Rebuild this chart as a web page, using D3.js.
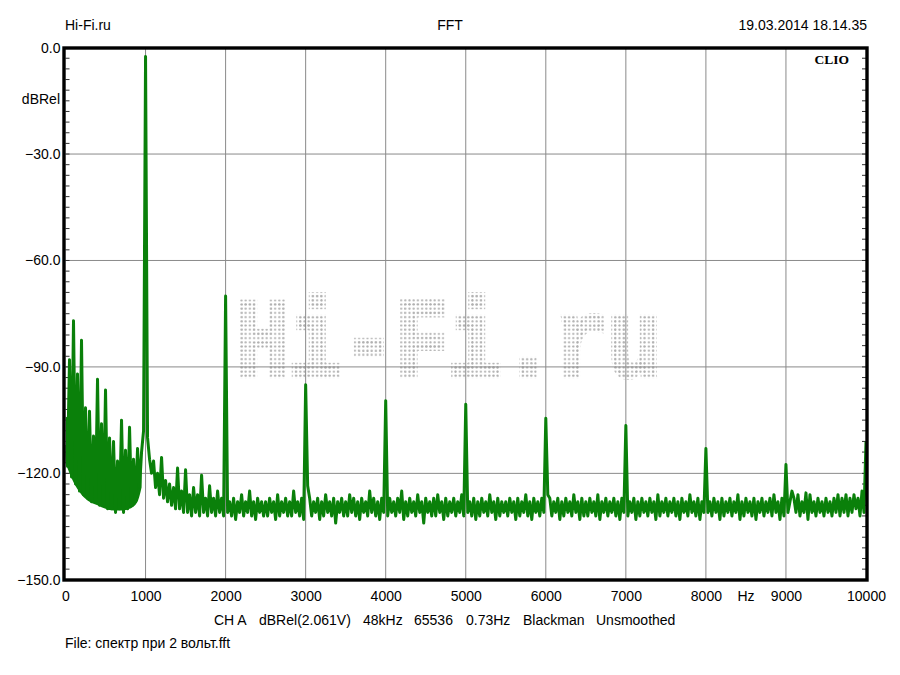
<!DOCTYPE html>
<html>
<head>
<meta charset="utf-8">
<script src="https://cdn.jsdelivr.net/npm/d3@7"></script>
<style>
  html, body { margin: 0; padding: 0; background: #fff; }
  svg { display: block; }
  text { font-family: "Liberation Sans", Arial, sans-serif; fill: #000; }
</style>
</head>
<body>
<svg id="chart" width="900" height="675"></svg>
<script>
// ---------------- DATA ----------------
const title = "FFT";
const brandLeft = "Hi-Fi.ru";
const dateText = "19.03.2014 18.14.35";
const yUnit = "dBRel";
const xUnit = "Hz";
const fileText = "File: спектр при 2 вольт.fft";
const infoItems = ["CH A", "dBRel(2.061V)", "48kHz", "65536", "0.73Hz", "Blackman", "Unsmoothed"];

const xTicks = [0, 1000, 2000, 3000, 4000, 5000, 6000, 7000, 8000, 9000, 10000];
const yTicks = [0, -30, -60, -90, -120, -150];

// noise floor, dBRel, one value every 25 Hz from 0 to 10000 Hz (read from picture:
// upper / lower edge of the noise band alternately)
const floorStep = 25;
const floorLevels = [
  -112,-118,-116,-121,-118,-123,-119,-125,-121,-126,-122,-127,-123,-128,-124,-128,-123,-129,-124,-129,
  -124,-130,-125,-130,-125,-131,-124,-130,-125,-131,-124,-130,-123,-129,-122,-128,-119,-124,-114,-108,
  -108,-110,-116,-120,-119,-124,-120,-126,-121,-127,-122,-128,-123,-129,-124,-130,-123,-130,-125,-131,
  -124,-131,-126,-132,-125,-131,-126,-132,-125,-131,-127,-132,-126,-131,-127,-132,-126,-131,-127,-132,
  -126,-131,-128,-132,-127,-133,-128,-131,-126,-132,-128,-131,-127,-132,-128,-133,-127,-131,-128,-132,
  -128,-132,-127,-131,-128,-133,-126,-132,-128,-131,-127,-132,-128,-132,-125,-131,-128,-132,-127,-133,
  -126,-131,-127,-132,-128,-131,-127,-133,-128,-132,-126,-131,-128,-132,-127,-134,-128,-131,-127,-132,
  -128,-132,-126,-131,-127,-132,-128,-133,-127,-131,-128,-132,-125,-131,-127,-132,-128,-133,-127,-131,
  -126,-132,-127,-131,-128,-132,-127,-131,-125,-133,-128,-132,-127,-131,-128,-132,-126,-131,-128,-134,
  -127,-131,-128,-132,-127,-132,-126,-131,-128,-133,-127,-132,-128,-131,-127,-132,-128,-131,-126,-132,
  -127,-131,-128,-132,-127,-133,-128,-132,-127,-131,-128,-132,-126,-131,-128,-133,-127,-132,-128,-131,
  -128,-132,-127,-131,-128,-133,-127,-132,-128,-131,-126,-132,-128,-133,-127,-131,-128,-132,-127,-131,
  -126,-131,-127,-132,-128,-131,-127,-133,-128,-132,-127,-131,-128,-132,-126,-131,-128,-133,-127,-132,
  -128,-132,-127,-131,-128,-132,-126,-133,-128,-131,-127,-132,-128,-131,-127,-132,-128,-133,-127,-131,
  -127,-132,-128,-131,-127,-133,-128,-132,-127,-131,-128,-132,-127,-131,-128,-133,-126,-132,-128,-131,
  -127,-132,-128,-131,-127,-132,-128,-133,-127,-131,-128,-132,-126,-131,-128,-132,-127,-133,-128,-131,
  -127,-131,-128,-132,-127,-131,-128,-133,-127,-132,-128,-131,-127,-132,-128,-131,-126,-133,-128,-132,
  -127,-131,-128,-132,-127,-133,-128,-131,-127,-132,-128,-131,-127,-132,-126,-131,-128,-133,-127,-132,
  -127,-131,-128,-132,-127,-131,-126,-132,-128,-131,-127,-133,-126,-131,-128,-132,-127,-131,-128,-132,
  -127,-131,-128,-132,-127,-131,-126,-132,-127,-131,-126,-132,-127,-131,-126,-130,-127,-132,-125,-131,
  -126
];

// dense hum region below 1 kHz: solid band between these edges
const denseFreqs  = [0, 50, 100, 150, 200, 300, 400, 500, 600, 700, 800, 900, 950];
const denseTop    = [-104, -105, -108, -110, -112, -115, -117, -118, -119, -120, -120, -118, -114];
const denseBottom = [-117, -120, -122.5, -124.5, -126, -128, -129, -130, -130.5, -130.5, -130, -128, -124];

// discrete spectral lines (hum, fundamental, harmonics, spurs)
const peakFreqs = [
  50, 100, 150, 200, 250, 300, 350, 400, 450, 500, 550, 600, 650, 700, 750, 800, 850, 900, 950,
  1000, 1100, 1150, 1200, 1250, 1300, 1400, 1500, 1600, 1700, 1800, 1900,
  2000, 2300, 3000, 3025, 4000, 5000, 6000, 6025, 7000, 8000, 9000, 9075, 9250, 10000
];
const peakLevels = [
  -88, -77, -92, -82.5, -101.5, -102.5, -109.5, -93.5, -106, -96.5, -110, -111, -116.5, -105, -113.5, -107, -116, -113, -115,
  -2.5, -116.5, -121, -115.5, -122, -123, -118.5, -119, -124, -120.5, -123.5, -125,
  -70, -125, -95, -123.5, -99.5, -100.5, -104.5, -126, -106.5, -113, -117.5, -125, -125.5, -111
];

// ---------------- CHART ----------------
const svg = d3.select("#chart");
const x = d3.scaleLinear().domain([0, 10000]).range([65.5, 866]);
const y = d3.scaleLinear().domain([-150, 0]).range([579.8, 47.6]);
const green = "#0a800a";

const peakMap = new Map(peakFreqs.map((f, i) => [f, peakLevels[i]]));
const spectrum = floorLevels.map((v, i) => {
  const f = i * floorStep;
  const p = peakMap.get(f);
  return { f, v: p === undefined ? v : Math.max(v, p) };
});
const dense = denseFreqs.map((f, i) => ({ f, top: denseTop[i], bottom: denseBottom[i] }));

const defs = svg.append("defs");
const pat = defs.append("pattern").attr("id", "dots")
  .attr("patternUnits", "userSpaceOnUse").attr("width", 4.2).attr("height", 4.2);
pat.append("circle").attr("cx", 2.1).attr("cy", 2.1).attr("r", 1.1).attr("fill", "#b0b0b0");
defs.append("clipPath").attr("id", "plotclip").append("rect")
  .attr("x", x(0)).attr("y", y(0)).attr("width", x(10000) - x(0)).attr("height", y(-150) - y(0));

// watermark (dot-matrix look)
svg.append("text")
  .attr("x", 236).attr("y", 376)
  .attr("textLength", 425).attr("lengthAdjust", "spacingAndGlyphs")
  .style("font-family", "'Liberation Mono', 'Courier New', monospace")
  .style("font-weight", "bold").style("font-size", "111px")
  .style("fill", "url(#dots)").style("stroke", "url(#dots)").style("stroke-width", 6)
  .text(brandLeft);

// grid
const grid = svg.append("g");
grid.selectAll("line.v").data(xTicks.slice(1, -1)).join("line")
  .attr("x1", d => x(d)).attr("x2", d => x(d))
  .attr("y1", y(0)).attr("y2", y(-150))
  .attr("stroke", "#8a8a8a").attr("stroke-width", 1);
grid.selectAll("line.h").data(yTicks.slice(1, -1)).join("line")
  .attr("x1", x(0)).attr("x2", x(10000))
  .attr("y1", d => y(d)).attr("y2", d => y(d))
  .attr("stroke", "#8a8a8a").attr("stroke-width", 1);

// minor ticks every 3 dB on both sides
const minor = d3.range(0, 51).map(i => -3 * i);
svg.append("g").selectAll("line").data(minor).join("line")
  .attr("x1", x(0)).attr("x2", x(0) + 4)
  .attr("y1", d => y(d)).attr("y2", d => y(d))
  .attr("stroke", "#333").attr("stroke-width", 1);
svg.append("g").selectAll("line").data(minor).join("line")
  .attr("x1", x(10000) - 4).attr("x2", x(10000))
  .attr("y1", d => y(d)).attr("y2", d => y(d))
  .attr("stroke", "#333").attr("stroke-width", 1);

// spectrum
const plot = svg.append("g").attr("clip-path", "url(#plotclip)");
plot.append("path").datum(dense)
  .attr("d", d3.area().x(d => x(d.f)).y0(d => y(d.bottom)).y1(d => y(d.top)).curve(d3.curveMonotoneX))
  .attr("fill", green);
const line = d3.line().x(d => x(d.f)).y(d => y(d.v));
plot.append("path").datum(spectrum)
  .attr("d", line)
  .attr("fill", "none").attr("stroke", green)
  .attr("stroke-width", 3).attr("stroke-linejoin", "round");

// frame
svg.append("rect").attr("x", 64).attr("y", 48).attr("width", 803).attr("height", 532)
  .attr("fill", "none").attr("stroke", "#000").attr("stroke-width", 3.4);

// axes labels
const xAxis = d3.axisBottom(x).tickValues(xTicks).tickFormat(d3.format("d")).tickSize(0).tickPadding(11);
const gx = svg.append("g").attr("transform", `translate(0,${y(-150)})`).call(xAxis);
gx.select(".domain").remove();
gx.selectAll("text").style("font-size", "14px").style("font-family", "'Liberation Sans', Arial, sans-serif").attr("fill", "#000");

const yAxis = d3.axisLeft(y).tickValues(yTicks).tickFormat(d => d3.format(".1f")(d)).tickSize(0).tickPadding(5);
const gy = svg.append("g").attr("transform", `translate(${x(0)},0)`).call(yAxis);
gy.select(".domain").remove();
gy.selectAll("text").style("font-size", "14px").style("font-family", "'Liberation Sans', Arial, sans-serif").attr("fill", "#000");

svg.append("text").attr("x", 60).attr("y", 104).attr("text-anchor", "end").style("font-size", "14px").text(yUnit);
svg.append("text").attr("x", 746).attr("y", 601).attr("text-anchor", "middle").style("font-size", "14px").text(xUnit);

// header
svg.append("text").attr("x", 65).attr("y", 29.5).style("font-size", "14px").text(brandLeft);
svg.append("text").attr("x", 450).attr("y", 29.5).attr("text-anchor", "middle").style("font-size", "14px").text(title);
svg.append("text").attr("x", 867).attr("y", 29.5).attr("text-anchor", "end").style("font-size", "14px").text(dateText);
svg.append("text").attr("x", 849).attr("y", 63.5).attr("text-anchor", "end")
  .style("font-family", "'Liberation Serif', 'Times New Roman', serif").style("font-weight", "bold").style("font-size", "13.5px")
  .text("CLIO");

// info line
const infoXs = [214, 259, 363, 414, 466, 523, 596];
svg.append("g").selectAll("text").data(infoItems).join("text")
  .attr("x", (d, i) => infoXs[i]).attr("y", 625).style("font-size", "14px").text(d => d);
svg.append("text").attr("x", 65).attr("y", 648).style("font-size", "14px").text(fileText);
</script>
</body>
</html>
